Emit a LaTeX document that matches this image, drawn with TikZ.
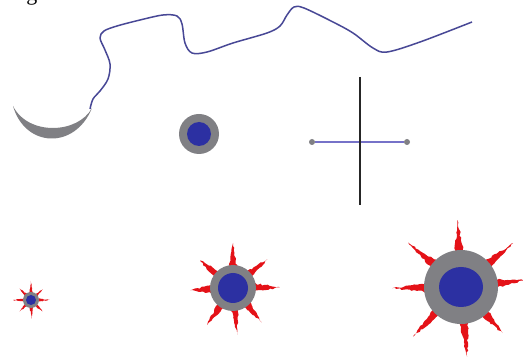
\documentclass[tikz,border=0pt]{standalone}
\usepackage{fontspec}
\setmainfont{Liberation Serif}
\usetikzlibrary{calc}
\usetikzlibrary{shapes.geometric}
\usetikzlibrary{decorations.pathmorphing}

\definecolor{coreblue}{RGB}{44,48,162}
\definecolor{ringgray}{RGB}{128,128,132}
\definecolor{spikered}{RGB}{228,18,24}
\definecolor{wireblue}{RGB}{72,72,150}
\definecolor{barblue}{RGB}{118,114,200}

\begin{document}
\begin{tikzpicture}[x=1pt, y=-1pt,
    ring/.style={circle, fill=ringgray, inner sep=0pt},
    core/.style={circle, fill=coreblue, inner sep=0pt},
    spike/.style={fill=spikered, decorate, decoration={random steps, segment length=2.5pt, amplitude=0.9pt}},
    dot/.style={circle, fill=ringgray, inner sep=0pt, minimum size=6pt},
    wire/.style={wireblue, line width=1.5pt, line join=round}
]
    \useasboundingbox[fill=white] (0,0) rectangle (523,358);

    % caption left over at the top edge
    \node[anchor=south, inner sep=0pt, font=\fontsize{22}{24}\selectfont] (cap) at (32,5) {g};

    % crescent and the wire that leaves it
    \fill[ringgray] (13,106) .. controls (25,148) and (75,150) .. (92,108)
        .. controls (78,134) and (28,136) .. cycle;
    \draw[wire] plot[smooth, tension=0.55] coordinates {
        (90,109) (93,99) (100,91) (108,79) (110,64) (105,50) (100,38) (104,31)
        (117,26) (140,20) (163,15) (177,16) (182,24) (185,43) (192,53) (207,52)
        (233,43) (267,33) (280,26) (287,15) (294,7) (304,8) (333,22) (353,33)
        (373,48) (387,52) (420,42) (472,22)};

    % single particle
    \node[ring, minimum size=40pt] (dotring) at (199,134) {};
    \node[core, minimum size=24pt] (dotcore) at (dotring) {};

    % cross
    \coordinate (vtop) at (360,77);
    \coordinate (vbot) at (360,205);
    \node[dot] (lend) at (312,142) {};
    \node[dot] (rend) at (407,142) {};
    \draw[barblue, line width=1.8pt] (lend) -- (rend);
    \draw[black!85, line width=1.8pt] (vtop) -- (vbot);

    % bursts: spikes first, then ring and core on top
    \coordinate (small) at (31,300);
    \coordinate (mid) at (233,288);
    \coordinate (big) at (461,287);

    \foreach \a/\r in {-90/19, -42/16, 0/19, 45/16, 88/19, 135/16, 180/18, 225/16}
        \fill[spike, decoration={amplitude=0.4pt, segment length=1.5pt}]
            ($(small)+(\a-16:6)$) -- ($(small)+(\a:\r)$) -- ($(small)+(\a+16:6)$) -- cycle;
    \foreach \a/\r in {-90/45, -40/45, -1/47, 50/45, 85/47, 125/45, 177/43, 220/43}
        \fill[spike] ($(mid)+(\a-12:20)$) -- ($(mid)+(\a:\r)$) -- ($(mid)+(\a+12:20)$) -- cycle;
    \foreach \a/\r in {-93/67, -40/68, -6/63, 48/62, 85/70, 134/69, 179/69, 220/69}
        \fill[spike] ($(big)+(\a-8.5:32)$) -- ($(big)+(\a:\r)$) -- ($(big)+(\a+8.5:32)$) -- cycle;

    \node[ring, minimum size=16pt] (smallring) at (small) {};
    \node[core, minimum size=10pt] (smallcore) at (small) {};
    \node[ring, minimum size=46pt] (midring) at (mid) {};
    \node[core, minimum size=30pt] (midcore) at (mid) {};
    \node[ring, minimum size=74pt] (bigring) at (big) {};
    \node[ellipse, fill=coreblue, inner sep=0pt, minimum width=44pt, minimum height=40pt] (bigcore) at (big) {};
\end{tikzpicture}
\end{document}
